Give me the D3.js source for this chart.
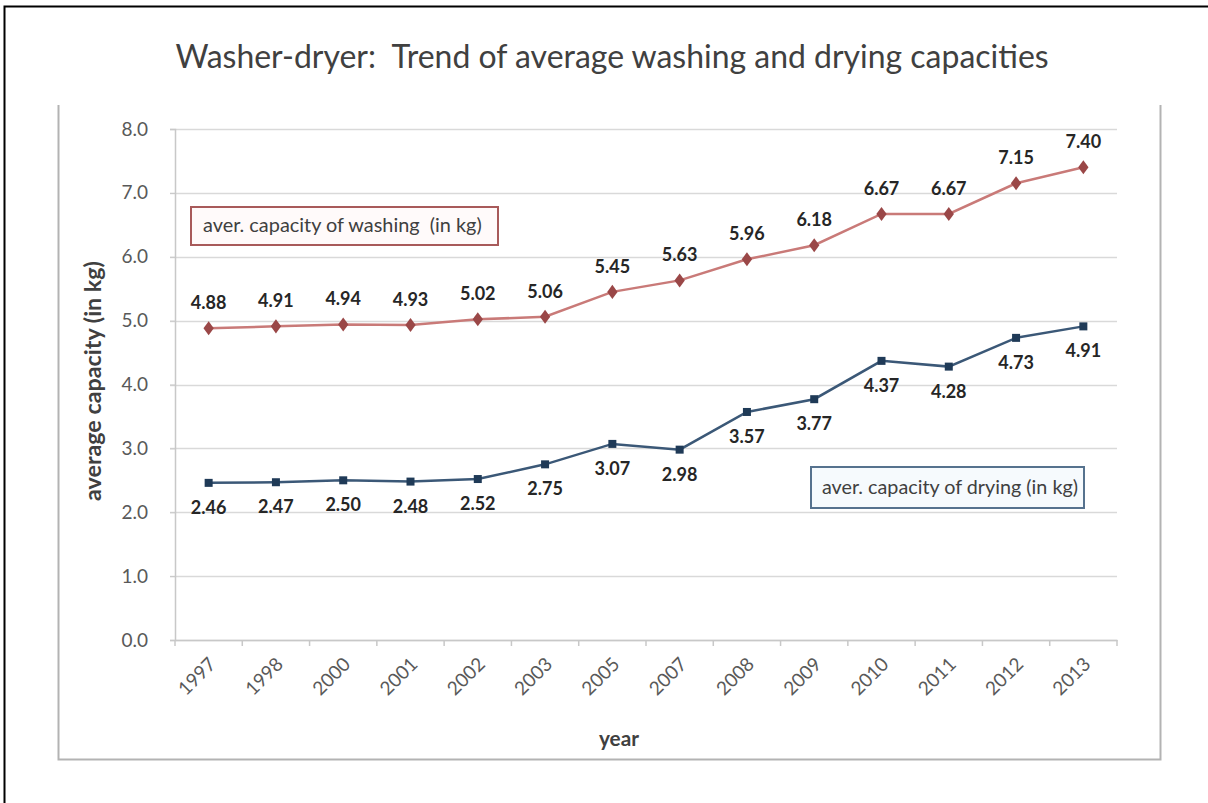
<!DOCTYPE html>
<html><head><meta charset="utf-8">
<script src="https://cdn.jsdelivr.net/npm/d3@7"></script>
<style>html,body{margin:0;padding:0;background:#fff;}svg{display:block;}</style>
</head><body>
<script>
const years = ["1997","1998","2000","2001","2002","2003","2005","2007","2008","2009","2010","2011","2012","2013"];
const washing = [4.88,4.91,4.94,4.93,5.02,5.06,5.45,5.63,5.96,6.18,6.67,6.67,7.15,7.40];
const drying = [2.46,2.47,2.50,2.48,2.52,2.75,3.07,2.98,3.57,3.77,4.37,4.28,4.73,4.91];
const yTicks = [0,1,2,3,4,5,6,7,8];
const title = "Washer-dryer:  Trend of average washing and drying capacities";
const legendWashing = "aver. capacity of washing  (in kg)";
const legendDrying = "aver. capacity of drying (in kg)";
const xTitle = "year";
const yTitle = "average capacity (in kg)";

const W = 1208, H = 803;
const font = "Lato, 'Open Sans', sans-serif";
const svg = d3.select("body").append("svg").attr("width", W).attr("height", H);

// outer black border (cropped at right/bottom)
svg.append("path").attr("d", "M4.5,803 L4.5,6.5 L1208,6.5").attr("fill","none").attr("stroke","#000").attr("stroke-width",2);
// chart frame
svg.append("path").attr("d", "M58.5,105 L58.5,759.5 L1160.5,759.5 L1160.5,105").attr("fill","none").attr("stroke","#b3b3b3").attr("stroke-width",2);

const x = d3.scaleBand().domain(years).range([175, 1117]);
const y = d3.scaleLinear().domain([0, 8]).range([640, 129]);
const cx = d => x(d) + x.bandwidth()/2;

function fit(sel, target) {
  let fs = parseFloat(sel.attr("font-size"));
  for (let i = 0; i < 3; i++) {
    const w = sel.node().getComputedTextLength();
    fs = fs * target / w;
    sel.attr("font-size", fs);
  }
}

// title
const t = svg.append("text").attr("x", 612).attr("y", 68).attr("text-anchor","middle")
  .attr("font-family", font).attr("font-size", 28).attr("fill","#404040").attr("xml:space","preserve").style("white-space","pre").text(title);
fit(t, 873);

// gridlines
svg.append("g").selectAll("line").data(yTicks).join("line")
  .attr("x1", 170).attr("x2", 1117).attr("y1", d => Math.round(y(d))+0.5).attr("y2", d => Math.round(y(d))+0.5)
  .attr("stroke", "#d9d9d9").attr("stroke-width", 1.5);

// y axis
const yAxis = svg.append("g").attr("transform","translate(175,0)")
  .call(d3.axisLeft(y).tickValues(yTicks).tickFormat(d3.format(".1f")).tickSize(5).tickPadding(22));
yAxis.select(".domain").attr("stroke","#c8c8c8").attr("stroke-width",1.5);
yAxis.selectAll(".tick line").attr("stroke","#c8c8c8");
yAxis.selectAll("text").attr("font-family", font).attr("font-size", 19).attr("fill","#595959");

// x axis
const xAxis = svg.append("g").attr("transform","translate(0,640)")
  .call(d3.axisBottom(x).tickSize(0).tickFormat(""));
xAxis.select(".domain").attr("stroke","#c8c8c8").attr("stroke-width",1.5);
const bounds = years.map(d => x(d)).concat([x.range()[1]]);
svg.append("g").selectAll("line").data(bounds).join("line")
  .attr("x1", d => d).attr("x2", d => d).attr("y1", 640).attr("y2", 646)
  .attr("stroke","#c8c8c8").attr("stroke-width",1.5);
svg.append("g").selectAll("text").data(years).join("text")
  .attr("transform", d => `translate(${cx(d)-1},${656}) rotate(-45)`)
  .attr("text-anchor","end").attr("dy","0.7em")
  .attr("font-family", font).attr("font-size", 19).attr("fill","#595959").text(d => d);

// axis titles
const xt = svg.append("text").attr("x", 619).attr("y", 746).attr("text-anchor","middle")
  .attr("font-family", font).attr("font-size", 19).attr("font-weight","bold").attr("fill","#404040").text(xTitle);
fit(xt, 40);
const yt = svg.append("text").attr("transform","translate(101,381) rotate(-90)").attr("text-anchor","middle")
  .attr("font-family", font).attr("font-size", 15).attr("font-weight","bold").attr("fill","#404040").text(yTitle);
fit(yt, 240);

// lines
const line = d3.line().x((d,i) => cx(years[i])).y(d => y(d));
svg.append("path").datum(washing).attr("d", line).attr("fill","none").attr("stroke","#c97a78").attr("stroke-width",2.5);
svg.append("path").datum(drying).attr("d", line).attr("fill","none").attr("stroke","#3b5877").attr("stroke-width",2.5);

// markers
svg.append("g").selectAll("path").data(washing).join("path")
  .attr("transform",(d,i) => `translate(${cx(years[i])},${y(d)}) scale(1.15,0.9)`)
  .attr("d", d3.symbol(d3.symbolDiamond, 70)).attr("fill","#9a4747");
svg.append("g").selectAll("rect").data(drying).join("rect")
  .attr("x",(d,i) => cx(years[i])-4).attr("y", d => y(d)-4).attr("width",8).attr("height",8).attr("fill","#1f3a57");

// data labels
svg.append("g").selectAll("text").data(washing).join("text")
  .attr("x",(d,i) => cx(years[i])).attr("y", d => y(d)-19)
  .attr("text-anchor","middle").attr("font-family", font).attr("font-size", 18).attr("font-weight","bold")
  .attr("fill","#262626").text(d => d.toFixed(2));
svg.append("g").selectAll("text").data(drying).join("text")
  .attr("x",(d,i) => cx(years[i])).attr("y", d => y(d)+31)
  .attr("text-anchor","middle").attr("font-family", font).attr("font-size", 18).attr("font-weight","bold")
  .attr("fill","#262626").text(d => d.toFixed(2));

// legend boxes
svg.append("rect").attr("x",191).attr("y",207).attr("width",307).attr("height",38)
  .attr("fill","#fffafa").attr("stroke","#a85a5a").attr("stroke-width",2);
const lw = svg.append("text").attr("x",203).attr("y",232).attr("font-family", font).attr("font-size",16)
  .attr("fill","#404040").attr("xml:space","preserve").style("white-space","pre").text(legendWashing);
fit(lw, 279);
svg.append("rect").attr("x",811).attr("y",467).attr("width",273).attr("height",41)
  .attr("fill","#f6fafd").attr("stroke","#56728e").attr("stroke-width",2);
const ld = svg.append("text").attr("x",822).attr("y",494).attr("font-family", font).attr("font-size",15)
  .attr("fill","#404040").text(legendDrying);
fit(ld, 256);
</script>
</body></html>
